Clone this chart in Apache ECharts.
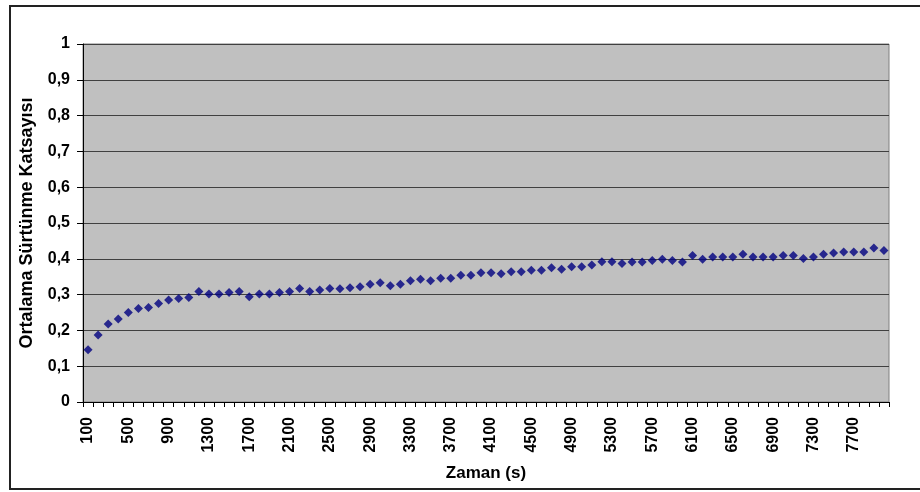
<!DOCTYPE html>
<html>
<head>
<meta charset="utf-8">
<title>Ortalama Sürtünme Katsayısı</title>
<script src="https://cdn.jsdelivr.net/npm/echarts@6/dist/echarts.min.js"></script>
<style>
  html, body { margin: 0; padding: 0; background: #fff; }
  #chart { width: 920px; height: 492px; }
</style>
</head>
<body>
<div id="chart"></div>
<script>
// Time points (s)
var categories = [
  '100','200','300','400','500','600','700','800','900','1000',
  '1100','1200','1300','1400','1500','1600','1700','1800','1900','2000',
  '2100','2200','2300','2400','2500','2600','2700','2800','2900','3000',
  '3100','3200','3300','3400','3500','3600','3700','3800','3900','4000',
  '4100','4200','4300','4400','4500','4600','4700','4800','4900','5000',
  '5100','5200','5300','5400','5500','5600','5700','5800','5900','6000',
  '6100','6200','6300','6400','6500','6600','6700','6800','6900','7000',
  '7100','7200','7300','7400','7500','7600','7700','7800','7900','8000'
];

// Mean friction coefficient at each time point
var frictionValues = [
  0.146, 0.187, 0.218, 0.232, 0.250, 0.261, 0.264, 0.275, 0.285, 0.289,
  0.292, 0.309, 0.302, 0.302, 0.306, 0.309, 0.294, 0.302, 0.302, 0.306,
  0.309, 0.317, 0.309, 0.313, 0.317, 0.316, 0.319, 0.322, 0.329, 0.333,
  0.325, 0.329, 0.339, 0.343, 0.339, 0.346, 0.346, 0.354, 0.354, 0.361,
  0.361, 0.358, 0.364, 0.364, 0.368, 0.368, 0.375, 0.371, 0.378, 0.378,
  0.383, 0.392, 0.392, 0.387, 0.391, 0.391, 0.395, 0.399, 0.395, 0.391,
  0.409, 0.399, 0.405, 0.405, 0.405, 0.413, 0.405, 0.405, 0.405, 0.409,
  0.409, 0.401, 0.405, 0.413, 0.416, 0.419, 0.419, 0.419, 0.430, 0.423
];

var FONT = '"Liberation Sans", Arial, sans-serif';

var chart = echarts.init(document.getElementById('chart'), null, { renderer: 'canvas' });

chart.setOption({
  animation: false,
  backgroundColor: '#ffffff',
  graphic: [{
    type: 'rect',
    silent: true,
    z: -10,
    shape: { x: 10, y: 6, width: 930, height: 483 },
    style: { fill: 'none', stroke: '#222', lineWidth: 2 }
  }],
  grid: {
    left: 83, right: 31, top: 44, bottom: 90,
    show: true,
    backgroundColor: '#C0C0C0',
    borderColor: '#808080',
    borderWidth: 1
  },
  xAxis: {
    type: 'category',
    data: categories,
    boundaryGap: true,
    name: 'Zaman (s)',
    nameLocation: 'middle',
    nameGap: 63,
    nameTextStyle: { color: '#000', fontFamily: FONT, fontWeight: 'bold', fontSize: 17 },
    axisLine: { show: true, lineStyle: { color: '#000', width: 1 } },
    axisTick: { show: true, interval: 0, length: 5, lineStyle: { color: '#000' } },
    axisLabel: {
      interval: 3,
      rotate: 90,
      margin: 15,
      color: '#000',
      fontFamily: FONT,
      fontWeight: 'bold',
      fontSize: 16
    },
    splitLine: { show: false }
  },
  yAxis: {
    type: 'value',
    min: 0,
    max: 1,
    interval: 0.1,
    name: 'Ortalama Sürtünme Katsayısı',
    nameLocation: 'middle',
    nameGap: 47,
    nameTextStyle: { color: '#000', fontFamily: FONT, fontWeight: 'bold', fontSize: 18 },
    axisLine: { show: true, lineStyle: { color: '#000', width: 1 } },
    axisTick: { show: true, inside: false, length: 6, lineStyle: { color: '#000' } },
    axisLabel: {
      margin: 13,
      color: '#000',
      fontFamily: FONT,
      fontWeight: 'bold',
      fontSize: 16,
      formatter: function (v) {
        return (Math.round(v * 10) / 10).toString().replace('.', ',');
      }
    },
    splitLine: { show: true, lineStyle: { color: '#404040', width: 1 } }
  },
  series: [{
    type: 'scatter',
    data: frictionValues,
    symbol: 'diamond',
    symbolSize: 9,
    itemStyle: { color: '#000080' }
  }]
});
</script>
</body>
</html>
